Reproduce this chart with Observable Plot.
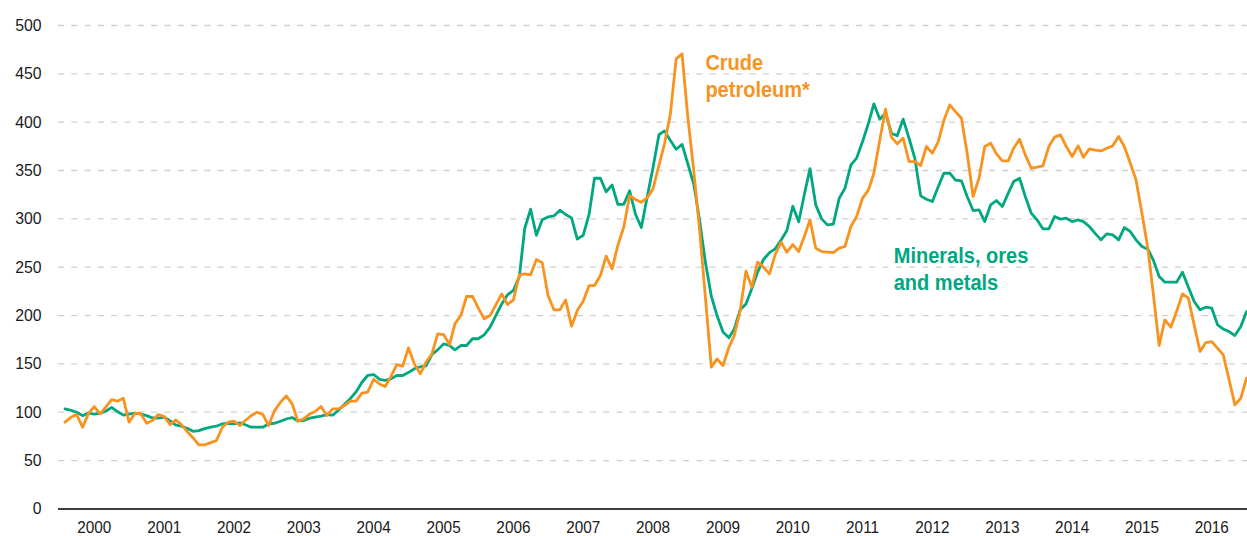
<!DOCTYPE html>
<html><head><meta charset="utf-8">
<script src="https://cdn.jsdelivr.net/npm/d3@7"></script>
<script src="https://cdn.jsdelivr.net/npm/@observablehq/plot@0.6"></script>
<style>
html,body{margin:0;padding:0;background:#fff;}
#chart svg{display:block;}
</style></head><body><div id="chart"></div>
<script>
// Monthly series, first month = August 1999
const START_YEAR = 1999, START_MONTH = 7;

const crude = [
  89.7, 94.8, 97.6, 84.5, 98.3, 105.9, 98.3, 105.2, 113.1, 111.4, 114.5, 89.7,
  99, 98.3, 88.6, 91.4, 97.6, 95.5, 87.2, 92, 87.2, 80, 73.4, 66.2,
  66.2, 68.5, 70.7, 84.5, 89.7, 90.7, 86.2, 91.4, 96.6, 100, 97.6, 86.2,
  101.7, 110.3, 116.9, 108.6, 90.7, 93.1, 98.3, 100.7, 105.9, 96.6, 103.4, 103.4,
  106.9, 111.4, 111.4, 119.7, 120.7, 134.1, 129.3, 126.6, 137, 149.3, 147.6, 166.6,
  150, 139.7, 151.7, 160.3, 181, 180.3, 170, 191.4, 200, 219.7, 219.7, 207.9,
  196.6, 200, 211, 222.4, 211.4, 216.2, 242.1, 243.1, 242.1, 257.9, 254.5, 220.7,
  205.9, 205.9, 216.2, 189, 205.2, 214.8, 231, 231, 241.4, 261.4, 248.3, 272.4,
  291.4, 324.1, 320, 317.2, 321.7, 331, 355.2, 377.6, 408.6, 465.5, 470.7, 405.2,
  350, 287.9, 219, 146.6, 155.2, 148.3, 167.2, 179.3, 205.2, 245.9, 229.3, 255.2,
  250, 243.1, 263.1, 275.9, 265.5, 273.4, 266.2, 281, 299, 269.7, 266.2, 265.7,
  265.2, 269.7, 271.4, 292.1, 302.4, 321.4, 330, 347.2, 381.7, 413.4, 384.5, 377.6,
  383.4, 359.3, 359.3, 355.2, 374.8, 367.9, 380, 401.7, 417.9, 411, 404.1, 367.9,
  323.1, 342.1, 374.8, 378.3, 367.2, 360, 360, 373.1, 382.4, 366.2, 352.4, 353.4,
  354.8, 374.8, 384.5, 386.9, 374.8, 364.5, 375.5, 363.8, 372.4, 371, 370.3, 373.1,
  375.5, 385.2, 374.8, 357.6, 340.3, 305.9, 269.7, 223.1, 169, 195.5, 187.9, 204.1,
  222.4, 217.9, 190.3, 162.8, 172.1, 173.1, 166, 159.3, 133.4, 107.6, 114.5, 135.2
];

const minerals = [
  103.4, 102, 100, 96.5, 99, 98, 99, 101, 105, 100.7, 97, 98,
  99, 98, 96.5, 94, 94, 95, 91, 87, 85.5, 83.4, 80.3, 81,
  83, 84.5, 85.5, 88, 88.6, 88, 89, 87, 84.5, 84.5, 84.5, 88,
  88.6, 90.7, 93, 94.5, 91, 91.4, 93.8, 94.8, 96, 97.6, 97, 102,
  108, 114, 121, 131, 138, 139, 134, 133, 134.5, 138, 138, 141,
  145, 147, 148, 159.7, 164.5, 170.7, 169, 164.5, 169, 169, 176, 176,
  180, 188, 200, 212, 221.4, 226, 240, 290, 310, 283, 299, 302,
  303, 309, 304.5, 301, 279, 283, 305, 342, 342, 328, 335, 315,
  315, 329, 305, 291, 322, 353, 387, 391, 381, 372, 377, 357,
  336, 298, 255, 220, 200, 183, 177, 186, 206, 212, 228, 245,
  258, 265, 269, 278, 288, 313, 297, 324, 352, 314.5, 300, 293.8,
  294.5, 321.4, 331.7, 355.9, 362.8, 380, 399, 419, 403, 409.3, 388.6, 385.9,
  403.1, 383.4, 362.8, 323.8, 320.3, 317.9, 333.4, 347.2, 347.2, 340, 339.3, 323.1,
  308.6, 309.3, 297.2, 314.5, 319, 312.8, 326.6, 338.6, 342, 323.1, 305.9, 299,
  289.7, 289.7, 302.4, 299.7, 300.7, 297.2, 299, 297.2, 292.1, 285, 278.3, 284.5,
  283.4, 278.3, 291, 286.9, 278.3, 271.4, 268.6, 257.6, 240.3, 234.5, 234.5, 234.5,
  244.8, 229.3, 214.5, 205.9, 208.6, 207.6, 190.3, 186, 183.4, 179.3, 188.6, 204.1
];

const yTicks = [0, 50, 100, 150, 200, 250, 300, 350, 400, 450, 500];
const yearTicks = [2000, 2001, 2002, 2003, 2004, 2005, 2006, 2007, 2008, 2009, 2010, 2011, 2012, 2013, 2014, 2015, 2016];
const seriesNames = ["Crude\npetroleum*", "Minerals, ores\nand metals"];

const ORANGE = "#f7931e", TEAL = "#00a77f";
const monthDate = i => new Date(Date.UTC(START_YEAR, START_MONTH + i, 1));
const crudeRows = crude.map((v, i) => ({date: monthDate(i), value: v}));
const mineralRows = minerals.map((v, i) => ({date: monthDate(i), value: v}));

const chart = Plot.plot({
  width: 1247,
  height: 536,
  marginTop: 25,
  marginBottom: 27.6,
  marginLeft: 58,
  marginRight: 0,
  style: {fontFamily: "'Liberation Sans', Arial, sans-serif", fontSize: "17px", color: "#1a1a1a", background: "#fff"},
  x: {type: "utc", domain: [new Date(Date.UTC(1999, 5, 28)), new Date(Date.UTC(2016, 6, 6))]},
  y: {domain: [0, 500]},
  marks: [
    Plot.ruleY(yTicks.filter(d => d > 0), {stroke: "#cfcfcf", strokeWidth: 1.3, strokeDasharray: "6,7.3"}),
    Plot.ruleY([0], {stroke: "#3c3c3c", strokeWidth: 2}),
    Plot.axisX(yearTicks.map(y => new Date(Date.UTC(y, 0, 1))), {tickSize: 0, tickPadding: 12, fontSize: 16.5, tickFormat: d3.utcFormat("%Y"), label: null}),
    Plot.axisY(yTicks, {tickSize: 0, tickPadding: 17, label: null}),
    Plot.line(mineralRows, {x: "date", y: "value", stroke: TEAL, strokeWidth: 2.8}),
    Plot.line(crudeRows, {x: "date", y: "value", stroke: ORANGE, strokeWidth: 2.8}),
    Plot.text([seriesNames[0]], {x: () => new Date(Date.UTC(2008, 9, 1)), y: () => 473.5, text: d => d, textAnchor: "start", lineAnchor: "top", fill: ORANGE, fontWeight: "bold", fontSize: 22, lineHeight: 1.21}),
    Plot.text([seriesNames[1]], {x: () => new Date(Date.UTC(2011, 5, 13)), y: () => 274.5, text: d => d, textAnchor: "start", lineAnchor: "top", fill: TEAL, fontWeight: "bold", fontSize: 22, lineHeight: 1.24})
  ]
});

document.getElementById("chart").appendChild(chart);

function squeeze(sel, k) {
  chart.querySelectorAll(sel).forEach(el => {
    let t = el.getAttribute("transform") || "";
    if (el.hasAttribute("x") && !t) {
      t = `translate(${el.getAttribute("x")},${el.getAttribute("y") || 0})`;
      el.removeAttribute("x"); el.removeAttribute("y");
    }
    el.setAttribute("transform", t + ` scale(${k},1)`);
  });
}
squeeze('g[aria-label="text"] text', 0.91);
squeeze('g[aria-label="x-axis tick label"] text', 0.93);
squeeze('g[aria-label="y-axis tick label"] text', 0.93);
</script>
</body></html>
